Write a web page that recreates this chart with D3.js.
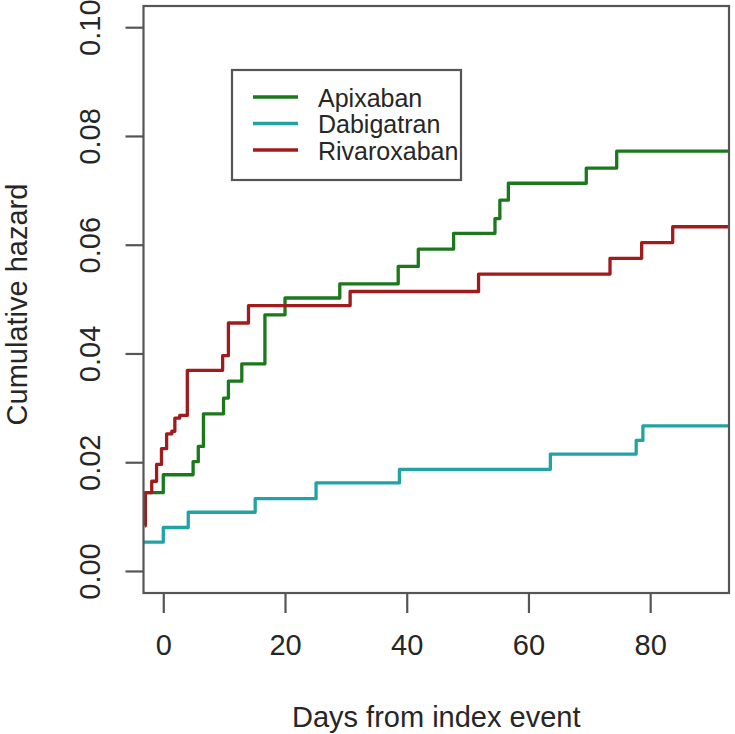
<!DOCTYPE html>
<html>
<head>
<meta charset="utf-8">
<script src="https://cdn.jsdelivr.net/npm/d3@7"></script>
<style>
  html, body { margin: 0; padding: 0; background: #fff; }
  text { font-family: "Liberation Sans", Arial, sans-serif; fill: #262626; }
</style>
</head>
<body>
<svg id="chart" width="735" height="734"></svg>
<script>
// ---- data ----
const seriesNames = ["Apixaban", "Dabigatran", "Rivaroxaban"];
const seriesColors = ["#1b781b", "#22a3a3", "#a01c1c"];

const apixabanDays   = [-3.0, 0.0, 4.9, 5.75, 6.6, 9.9, 10.7, 12.9, 16.7, 20.0, 29.0, 38.6, 41.9, 47.7, 54.5, 55.3, 56.7, 69.5, 74.5];
const apixabanHazard = [0.0144, 0.0177, 0.0201, 0.0229, 0.0289, 0.0318, 0.0349, 0.0381, 0.0471, 0.0502, 0.0528, 0.0560, 0.0592, 0.0621, 0.0648, 0.0682, 0.0713, 0.0741, 0.0772];

const dabigatranDays   = [-3.3, 0.0, 4.1, 15.1, 25.1, 38.8, 63.6, 77.7, 78.8];
const dabigatranHazard = [0.0053, 0.0080, 0.0108, 0.0133, 0.0162, 0.0187, 0.0215, 0.0240, 0.0267];

const rivaroxabanDays   = [-3.05, -2.95, -1.9, -1.1, -0.3, 0.55, 1.4, 1.9, 2.7, 3.95, 9.75, 10.7, 14.0, 30.7, 51.8, 73.4, 78.6, 83.7];
const rivaroxabanHazard = [0.0083, 0.0144, 0.0165, 0.0196, 0.0225, 0.0252, 0.0257, 0.0281, 0.0286, 0.0369, 0.0396, 0.0456, 0.0488, 0.0514, 0.0546, 0.0575, 0.0604, 0.0633];

const xTicks = [0, 20, 40, 60, 80];
const yTicks = [0.00, 0.02, 0.04, 0.06, 0.08, 0.10];
const xDomain = [-3.25, 92.95];
const yDomain = [-0.00405, 0.1039];
const xLabel = "Days from index event";
const yLabel = "Cumulative hazard";

// ---- layout ----
const svg = d3.select("#chart");
const pL = 143.5, pR = 729, pT = 6, pB = 593;
const x = d3.scaleLinear().domain(xDomain).range([pL, pR]);
const y = d3.scaleLinear().domain(yDomain).range([pB, pT]);
const fontSize = 29;
const ff = "'Liberation Sans', Arial, sans-serif";

svg.append("defs").append("clipPath").attr("id", "clip")
  .append("rect").attr("x", pL).attr("y", pT).attr("width", pR - pL).attr("height", pB - pT);

// curves
const series = [
  {days: apixabanDays, hz: apixabanHazard},
  {days: dabigatranDays, hz: dabigatranHazard},
  {days: rivaroxabanDays, hz: rivaroxabanHazard}
];
const line = d3.line().x(d => x(d[0])).y(d => y(d[1])).curve(d3.curveStepAfter);
const g = svg.append("g").attr("clip-path", "url(#clip)");
series.forEach((s, i) => {
  const pts = s.days.map((d, k) => [d, s.hz[k]]);
  pts.push([xDomain[1] + 1, s.hz[s.hz.length - 1]]);
  g.append("path").datum(pts).attr("d", line)
    .attr("fill", "none").attr("stroke", seriesColors[i])
    .attr("stroke-width", 3.3).attr("stroke-linejoin", "round");
});

// box
svg.append("rect").attr("x", pL).attr("y", pT).attr("width", pR - pL).attr("height", pB - pT)
  .attr("fill", "none").attr("stroke", "#555").attr("stroke-width", 2.2);

// x axis
const xAxis = svg.append("g").attr("transform", `translate(0,${pB})`)
  .call(d3.axisBottom(x).tickValues(xTicks).tickSize(20).tickFormat(d3.format("d")));
xAxis.select(".domain").remove();
xAxis.selectAll(".tick line").attr("stroke", "#555").attr("stroke-width", 2.2);
xAxis.selectAll(".tick text").attr("y", 62).attr("dy", 0)
  .style("font-size", fontSize + "px").style("font-family", ff).attr("fill", "#262626");

// y axis
const yAxis = svg.append("g").attr("transform", `translate(${pL},0)`)
  .call(d3.axisLeft(y).tickValues(yTicks).tickSize(18).tickFormat(d3.format(".2f")));
yAxis.select(".domain").remove();
yAxis.selectAll(".tick line").attr("stroke", "#555").attr("stroke-width", 2.2);
yAxis.selectAll(".tick text")
  .attr("transform", "rotate(-90)")
  .attr("x", 0).attr("y", -44).attr("dy", 0)
  .attr("text-anchor", "middle")
  .style("font-size", fontSize + "px").style("font-family", ff).attr("fill", "#262626");

// axis titles
svg.append("text").attr("x", (pL + pR) / 2).attr("y", 727)
  .attr("text-anchor", "middle").style("font-size", fontSize + "px").text(xLabel);
svg.append("text").attr("transform", `translate(27,${(pT + pB) / 2 + 5}) rotate(-90)`)
  .attr("text-anchor", "middle").style("font-size", fontSize + "px").text(yLabel);

// legend
const lg = svg.append("g");
lg.append("rect").attr("x", 232).attr("y", 70).attr("width", 229).attr("height", 110)
  .attr("fill", "#fff").attr("stroke", "#555").attr("stroke-width", 2.2);
seriesNames.forEach((name, i) => {
  const ly = 97 + i * 26.5;
  lg.append("line").attr("x1", 253).attr("x2", 298).attr("y1", ly).attr("y2", ly)
    .attr("stroke", seriesColors[i]).attr("stroke-width", 3.3);
  lg.append("text").attr("x", 318).attr("y", ly + 9.5).style("font-size", "25px").text(name);
});
</script>
</body>
</html>
